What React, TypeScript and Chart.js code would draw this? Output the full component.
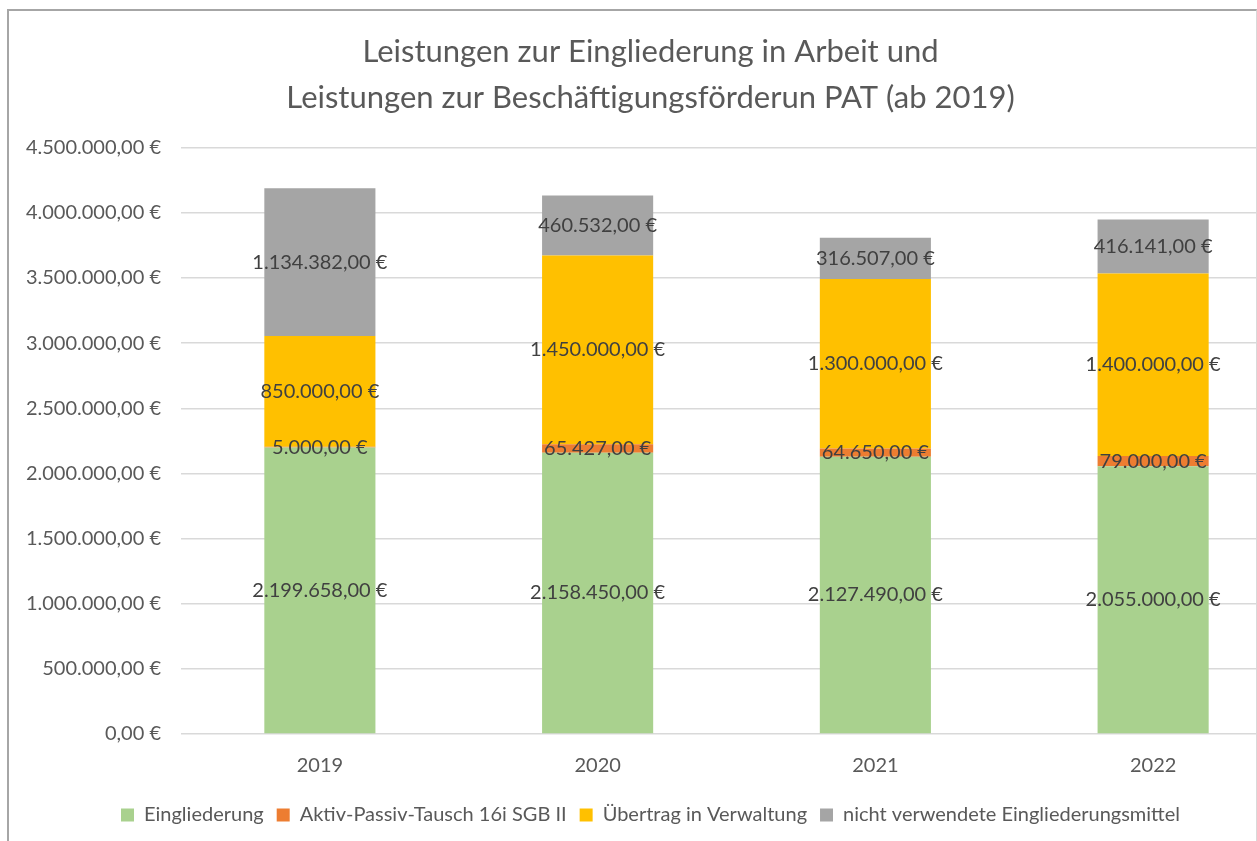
import React, { useEffect, useRef } from "react";
import { Chart, registerables } from "chart.js";

Chart.register(...registerables);

const categories = ["2019", "2020", "2021", "2022"];
const eingliederung = [2199658, 2158450, 2127490, 2055000];
const aktivPassiv = [5000, 65427, 64650, 79000];
const uebertrag = [850000, 1450000, 1300000, 1400000];
const nichtVerwendet = [1134382, 460532, 316507, 416141];
const seriesNames = [
  "Eingliederung",
  "Aktiv-Passiv-Tausch 16i SGB II",
  "Übertrag in Verwaltung",
  "nicht verwendete Eingliederungsmittel",
];
const titleLines = [
  "Leistungen zur Eingliederung in Arbeit und",
  "Leistungen zur Beschäftigungsförderun PAT (ab 2019)",
];

const FONT = "Lato, 'Open Sans', sans-serif";

function fmtEuro(v: number): string {
  const neg = v < 0;
  const fixed = Math.abs(v).toFixed(2);
  const [intPart, dec] = fixed.split(".");
  const withDots = intPart.replace(/\B(?=(\d{3})+(?!\d))/g, ".");
  return (neg ? "-" : "") + withDots + "," + dec + " €";
}

const dataLabelPlugin = {
  id: "segLabels",
  afterDatasetsDraw(chart: any) {
    const ctx = chart.ctx;
    ctx.save();
    ctx.font = `20px ${FONT}`;
    ctx.fillStyle = "#404040";
    ctx.textAlign = "center";
    ctx.textBaseline = "middle";
    chart.data.datasets.forEach((ds: any, i: number) => {
      const meta = chart.getDatasetMeta(i);
      meta.data.forEach((el: any, j: number) => {
        const v = ds.data[j];
        const y = (el.y + el.base) / 2;
        ctx.fillText(fmtEuro(v), el.x, y);
      });
    });
    ctx.restore();
  },
};

export default function App() {
  const ref = useRef<HTMLCanvasElement | null>(null);
  useEffect(() => {
    if (!ref.current) return;
    const chart = new Chart(ref.current, {
      type: "bar",
      data: {
        labels: categories,
        datasets: [
          { label: seriesNames[0], data: eingliederung, backgroundColor: "#A9D18E" },
          { label: seriesNames[1], data: aktivPassiv, backgroundColor: "#ED7D31" },
          { label: seriesNames[2], data: uebertrag, backgroundColor: "#FFC000" },
          { label: seriesNames[3], data: nichtVerwendet, backgroundColor: "#A5A5A5" },
        ],
      },
      options: {
        responsive: false,
        animation: false,
        layout: { padding: { left: 0, right: 23, top: 0, bottom: 6 } },
        datasets: { bar: { barPercentage: 0.8, categoryPercentage: 0.5 } },
        plugins: {
          title: {
            display: true,
            text: titleLines,
            color: "#595959",
            font: { family: FONT, size: 31, weight: "normal", lineHeight: 1.48 },
            padding: { top: 18, bottom: 27 },
          },
          legend: {
            position: "bottom",
            labels: {
              color: "#595959",
              font: { family: FONT, size: 20 },
              boxWidth: 13,
              boxHeight: 13,
              padding: 13,
            },
          },
          tooltip: { enabled: false },
        },
        scales: {
          x: {
            stacked: true,
            grid: { display: false },
            border: { display: false },
            afterFit(scale: any) {
              scale.height += 2;
            },
            ticks: { color: "#595959", font: { family: FONT, size: 20 }, padding: 12 },
          },
          y: {
            stacked: true,
            min: 0,
            max: 4500000,
            grid: { color: "#d9d9d9", lineWidth: 1.5, drawTicks: false },
            border: { display: false },
            afterFit(scale: any) {
              scale.width = 172;
            },
            ticks: {
              stepSize: 500000,
              color: "#595959",
              font: { family: FONT, size: 20 },
              padding: 20,
              callback: (v: any) => fmtEuro(Number(v)),
            },
          },
        },
      },
      plugins: [dataLabelPlugin],
    });
    return () => chart.destroy();
  }, []);
  return (
    <div
      style={{
        position: "fixed",
        left: 0,
        top: 0,
        width: 1257,
        height: 841,
        overflow: "hidden",
        background: "#fff",
      }}
    >
      <div
        style={{
          position: "absolute",
          left: 7,
          top: 9,
          width: 1250,
          height: 900,
          boxSizing: "border-box",
          borderLeft: "2px solid #a6a6a6",
          borderTop: "2px solid #a6a6a6",
          borderRight: "1px solid #d9d9d9",
          overflow: "hidden",
          background: "#fff",
        }}
      >
        <canvas
          ref={ref}
          width={1306}
          height={830}
          style={{ display: "block", position: "absolute", left: 0, top: 0 }}
        />
      </div>
    </div>
  );
}
